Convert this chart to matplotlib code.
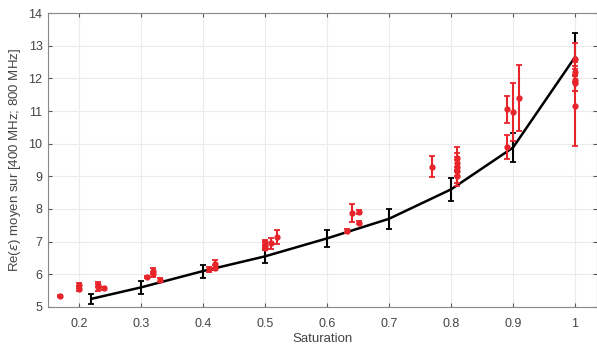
import matplotlib.pyplot as plt

plt.rcParams['font.family'] = ['Liberation Sans', 'DejaVu Sans']

# model curve (black) with error bars
sat_model = [0.22, 0.3, 0.4, 0.5, 0.6, 0.7, 0.8, 0.9, 1.0]
eps_model = [5.25, 5.6, 6.1, 6.55, 7.1, 7.7, 8.6, 9.88, 12.65]
err_model = [0.16, 0.2, 0.2, 0.2, 0.25, 0.3, 0.36, 0.45, 0.75]

# measurements (red)
sat_meas = [0.17, 0.2, 0.2, 0.23, 0.23, 0.24, 0.31, 0.32, 0.32, 0.33,
            0.41, 0.42, 0.42, 0.5, 0.5, 0.5, 0.51, 0.52,
            0.632, 0.64, 0.652, 0.652, 0.77,
            0.81, 0.81, 0.81, 0.81, 0.81,
            0.89, 0.89, 0.9, 0.91,
            1.0, 1.0, 1.0, 1.0, 1.0]
eps_meas = [5.33, 5.56, 5.66, 5.6, 5.68, 5.57, 5.92, 6.0, 6.1, 5.83,
            6.15, 6.2, 6.32, 6.8, 6.9, 6.98, 6.95, 7.15,
            7.32, 7.87, 7.9, 7.58, 9.3,
            9.55, 9.42, 9.3, 9.15, 9.0,
            11.05, 9.9, 10.97, 11.4,
            12.58, 12.2, 11.95, 11.85, 11.15]
err_meas = [0.03, 0.08, 0.08, 0.1, 0.08, 0.04, 0.04, 0.08, 0.1, 0.06,
            0.08, 0.08, 0.12, 0.06, 0.08, 0.08, 0.16, 0.22,
            0.06, 0.28, 0.06, 0.05, 0.33,
            0.35, 0.3, 0.3, 0.35, 0.3,
            0.42, 0.38, 0.9, 1.0,
            0.5, 0.3, 0.35, 0.25, 1.22]

fig = plt.figure(figsize=(5.97, 3.47), dpi=100)
ax = fig.add_axes([0.0804, 0.1153, 0.9196, 0.8472])

ax.errorbar(sat_meas, eps_meas, yerr=err_meas, fmt='o', color='#e8242b',
            markersize=3.5, elinewidth=1.5, capsize=2, capthick=1.3, zorder=3)
ax.errorbar(sat_model, eps_model, yerr=err_model, fmt='-', color='black',
            linewidth=1.8, elinewidth=1.5, capsize=2.5, capthick=1.3, zorder=2)

ax.set_xlim(0.15, 1.0355)
ax.set_ylim(5, 14)
ax.set_xticks([0.2, 0.3, 0.4, 0.5, 0.6, 0.7, 0.8, 0.9, 1.0])
ax.set_xticklabels(['0.2', '0.3', '0.4', '0.5', '0.6', '0.7', '0.8', '0.9', '1'])
ax.set_yticks(range(5, 15))
ax.grid(True, color='#ebebeb', linewidth=0.8)
ax.set_axisbelow(True)
ax.tick_params(direction='in', top=True, right=True, length=3,
               colors='#555555', labelsize=9, labelcolor='#444444')
ax.tick_params(axis='x', pad=8)
ax.tick_params(axis='y', pad=4)
for s in ax.spines.values():
    s.set_color('#888888')
    s.set_linewidth(0.8)

ax.set_xlabel('Saturation', fontsize=9.5, color='#444444', labelpad=2)
ax.set_ylabel(r'Re($\epsilon$) moyen sur [400 MHz; 800 MHz]', fontsize=9.5,
              color='#444444', labelpad=4)

fig.savefig('out.png', dpi=100)
